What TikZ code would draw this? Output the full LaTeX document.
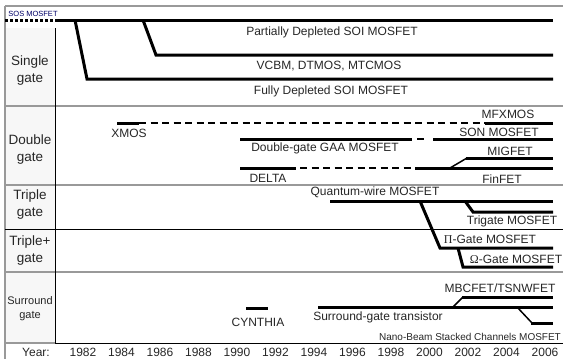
\documentclass[tikz,border=0pt]{standalone}
\usepackage{fontspec}
\setmainfont{Liberation Sans}
\newfontfamily\symfont{Liberation Serif}
\begin{document}
\begin{tikzpicture}[x=1pt,y=-1pt,
  bar/.style={line width=3pt,black},
  dbar/.style={line width=2pt,black,dash pattern=on 7pt off 4.5pt},
  sosbar/.style={line width=3pt,black,dash pattern=on 3pt off 2pt},
  grid/.style={gray!80,line width=1.5pt},
  gridk/.style={black,line width=0.9pt},
  lbl/.style={font=\fontsize{12}{13}\selectfont,text=black!85,inner sep=0pt},
  small/.style={font=\fontsize{10}{11}\selectfont,text=black!85,inner sep=0pt},
  cat/.style={font=\fontsize{13.5}{17}\selectfont,text=black!85,align=center,inner sep=0pt},
  yr/.style={font=\fontsize{12}{13}\selectfont,text=black!85,inner sep=0pt}]
\useasboundingbox (0,0) rectangle (563,359);
% label column fill
\fill[gray!6] (5,28) rectangle (55,343);
% frame
\draw[grid] (5,6) -- (563,6);
\draw[grid] (5,6) -- (5,359);
\draw[grid] (5,106) -- (563,106);
\draw[grid] (5,185) -- (563,185);
\draw[gridk] (5,229) -- (563,229);
\draw[grid] (5,272) -- (563,272);
\draw[grid] (5,343) -- (55,343);
\draw[gridk] (55,343) -- (563,343);
\draw[gridk] (55,28) -- (55,343);
% category labels
\node[cat] (single) at (30,71) {Single\\gate};
\node[cat] (double) at (30,150) {Double\\gate};
\node[cat] (triple) at (30,205) {Triple\\gate};
\node[cat] (tripleplus) at (30,251) {Triple+\\gate};
\node[cat,font=\fontsize{11}{14}\selectfont] (surround) at (30,309) {Surround\\gate};
% ---- single gate
\draw[sosbar] (5,20) -- (55,20);
\node[font=\fontsize{7.5}{8}\selectfont,text=blue!40!black,inner sep=0pt] (sos) at (33,14) {SOS MOSFET};
\draw[bar] (55,20) -- (553,20);
\draw[bar,line join=miter] (143,20) -- (156,55) -- (553,55);
\draw[bar,line join=miter] (75,20) -- (87,79) -- (553,79);
\node[lbl] (pd) at (332,32) {Partially Depleted SOI MOSFET};
\node[lbl] (vcbm) at (329,66) {VCBM, DTMOS, MTCMOS};
\node[lbl] (fd) at (331,91) {Fully Depleted SOI MOSFET};
% ---- double gate
\draw[bar] (117,123) -- (139,123);
\draw[dbar] (139,123) -- (485,123);
\draw[bar] (485,123) -- (553,123);
\node[lbl] (xmos) at (129,133) {XMOS};
\node[lbl] (mfx) at (508,114) {MFXMOS};
\draw[bar] (240,139) -- (412,139);
\draw[dbar] (417,139) -- (428,139);
\draw[bar] (433,139) -- (553,139);
\node[lbl] (son) at (499,132) {SON MOSFET};
\node[lbl] (gaa) at (325,148) {Double-gate GAA MOSFET};
\draw[bar] (240,168) -- (296,168);
\draw[dbar] (300,168) -- (415,168);
\draw[bar] (415,168) -- (553,168);
\draw[line width=1.5pt] (450,168) -- (467,158);
\draw[bar] (466,158) -- (553,158);
\node[lbl] (mig) at (510,151) {MIGFET};
\node[lbl] (delta) at (268,178) {DELTA};
\node[lbl] (fin) at (502,179) {FinFET};
% ---- triple gate
\node[lbl] (qw) at (375,192) {Quantum-wire MOSFET};
\draw[bar] (330,201) -- (553,201);
\draw[bar,line join=miter] (465,201) -- (473,212) -- (553,212);
\node[lbl] (tri) at (512,221) {Trigate MOSFET};
\draw[bar,line join=miter] (420,201) -- (440,248) -- (553,248);
\node[lbl] (pi) at (490,239) {{\symfont Π}-Gate MOSFET};
\draw[bar,line join=miter] (458,248) -- (463,267) -- (553,267);
\node[lbl] (om) at (516,259) {{\symfont Ω}-Gate MOSFET};
% ---- surround gate
\draw[bar] (246,308) -- (268,308);
\node[lbl] (cyn) at (258,322) {CYNTHIA};
\draw[bar] (318,307) -- (553,307);
\node[lbl] (sgt) at (378,317) {Surround-gate transistor};
\draw[line width=1.5pt] (453,307) -- (463,297);
\draw[bar] (462,297) -- (553,297);
\node[lbl] (mbc) at (500,288) {MBCFET/TSNWFET};
\draw[line width=1.5pt] (517,307) -- (532,323);
\draw[bar] (531,323) -- (553,323);
\node[small] (nano) at (470,337) {Nano-Beam Stacked Channels MOSFET};
% ---- years
\node[yr] (year) at (36,352) {Year:};
\foreach \y [count=\i from 0] in {1982,1984,...,2006}
  \node[yr] (y\y) at ({83+\i*38.5},352) {\y};
\end{tikzpicture}
\end{document}
